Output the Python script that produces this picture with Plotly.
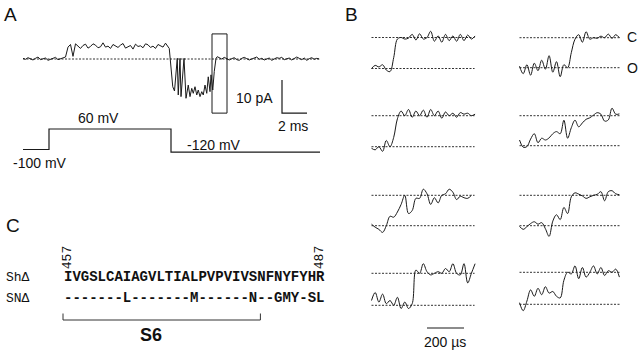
import numpy as np
import plotly.graph_objects as go

W, H = 640, 355

# ---------------- Panel A data ----------------
A_DT = 0.2  # ms sampling of the digitised current
I_pre = [0.2, -0.1, 0.4, 0.1, -0.3, 0.2, 0.6, -0.2, 0.0, 0.3, -0.4, -0.1, 0.3, 0.5, -0.2, 0.1, 0.4, 0.6,
         3.6, 4.4, 0.8, 4.6, 3.9, 3.2, 4.1, 4.5, 3.3, 3.8,
         4.6, 4.2, 3.4, 3.7, 4.9, 3.6, 3.9, 3.2, 4.4, 4.0,
         3.5, 4.2, 4.7, 3.3, 3.6, 4.1, 3.0, 4.5, 3.8, 4.0,
         3.4, 4.6, 4.3, 3.5, 3.9, 3.2, 4.4, 4.1, 3.6, 4.8, 3.9]
tail_t = [11.70, 11.98, 12.12, 12.34, 12.42, 12.56, 12.64, 12.88, 13.04, 13.22, 13.36, 13.50, 13.62,
          13.76, 13.90, 14.02, 14.16, 14.30, 14.42, 14.56, 14.70, 14.82, 14.96, 15.04, 15.18, 15.30,
          15.44, 15.54]
tail_I = [3.2, -8.4, -9.7, 0.2, -10.9, 0.2, -11.4, 0.2, -11.9, -7.9, -11.4, -8.9, -10.4,
          -8.4, -10.9, -9.4, -11.4, -9.9, -10.9, -7.9, -10.4, -5.4, -9.9, -4.8, -9.4, -3.8,
          0.2, 0.7]
POST_T0 = 15.7
I_post = [0.3, 0.0, 0.5, 0.2, -0.3, 0.1, 0.4, -0.2, -0.4, 0.2,
          0.5, 0.1, -0.3, 0.0, 0.4, 0.6, -0.1, 0.2, -0.3, 0.1,
          0.3, -0.4, -0.1, 0.4, 0.2, 0.5, -0.2, 0.0, 0.3, -0.3,
          0.1, 0.6, 0.2, -0.2, 0.3, -0.4, 0.1, 0.4, -0.1, 0.2, 0.0]
A_END = 23.7

V_edges = [0, 2.08, 11.84, 23.76]      # ms
V_levels = [-100, 60, -120, -120]      # mV

BOX_T = [15.12, 16.32]
BOX_I = [-16.4, 7.6]
SCALE_T0, SCALE_I0, SCALE_DT, SCALE_DI = 20.72, -16.4, 2, 10

# ---------------- Panel B data (normalised: 0 = open, 1 = closed) ----------------
B_DT = 20  # microseconds
B1 = [0.0, 0.1, 0.05, 0.12, -0.05, -0.1, 0.35, 0.95, 1.0, 0.95,
      0.98, 1.1, 0.92, 1.12, 0.95, 1.0, 1.2, 0.88, 1.05, 0.85,
      1.1, 0.9, 1.05, 0.88, 1.1, 0.9, 1.08, 0.95, 1.05]
B2 = [0.05, -0.2, 0.1, -0.25, 0.15, -0.1, 0.25, -0.05, 0.4, -0.15,
      0.2, -0.3, 0.1, 0.0, 0.5, 0.95, 1.1, 0.85, 1.2, 0.95,
      1.0, 0.98, 1.05, 1.0, 1.12, 0.98, 1.1, 1.0]
B3 = [-0.05, -0.1, 0.0, -0.15, 0.2, 0.0, 0.3, 0.9, 1.15, 1.0,
      1.2, 0.95, 1.15, 1.0, 1.18, 0.95, 1.2, 1.0, 1.15, 0.92,
      1.12, 1.0, 1.08, 0.95, 1.1, 1.05, 1.08, 1.0, 1.05]
B4 = [0.19, -0.05, -0.03, 0.22, 0.4, 0.1, 0.25, 0.19, 0.26, 0.4,
      0.47, 0.4, 0.85, 0.25, 0.6, 0.85, 0.63, 0.76, 0.88, 0.93,
      1.02, 1.1, 1.05, 0.82, 0.86, 1.25, 1.05, 1.06]
B5 = [0.05, -0.05, -0.12, -0.22, 0.0, 0.31, 0.28, 0.45, 0.7, 1.0,
      0.4, 0.5, 0.9, 0.9, 1.2, 1.05, 0.7, 0.92, 0.75, 1.0,
      1.05, 1.2, 1.1, 0.86, 0.97, 0.92, 0.9, 1.0]
B6 = [-0.02, -0.12, -0.03, 0.07, 0.13, 0.05, 0.1, -0.1, -0.35, 0.15,
      0.36, 0.2, 0.6, 0.4, 0.95, 1.08, 1.04, 0.98, 0.9, 0.95,
      1.0, 1.03, 1.12, 0.82, 1.12, 1.15, 1.05, 1.02]
B7 = [0.15, 0.4, 0.1, 0.35, 0.05, 0.15, 0.0, 0.25, -0.1, 0.1,
      -0.1, 0.05, 1.1, 1.0, 1.3, 1.05, 0.95, 1.0, 1.05, 1.0,
      1.15, 1.05, 1.3, 1.0, 0.95, 1.3, 0.7, 1.0, 1.3]
B8 = [0.05, -0.2, 0.1, 0.45, 0.25, 0.5, 0.3, 0.55, 0.35, 0.4,
      0.25, 0.2, 0.75, 1.0, 0.95, 1.2, 0.8, 1.15, 0.85, 1.0,
      1.2, 0.95, 1.15, 0.9, 1.05, 1.0, 1.1, 0.85]
B_SERIES = [B1, B2, B3, B4, B5, B6, B7, B8]
B_DOT_END = [557, 546, 557, 546, 557, 546, 557, 546]
B_SCALE = [300, 500]  # 200 us scale bar

# ---------------- Panel C data ----------------
seq_label = ["ShΔ", "SNΔ"]
seq = ["IVGSLCAIAGVLTIALPVPVIVSNFNYFYHR",
       "-------L-------M------N--GMY-SL"]
res_first, res_last = 457, 487
S6_RANGE = [456.5, 480]

# ---------------- helpers ----------------
def xr(px0, v0, s):
    return [v0 - px0 / s, v0 + (W - px0) / s]

def yr(py0, v0, s):
    return [v0 - (H - py0) / s, v0 + py0 / s]

LINE = '#1a1a1a'
DOT = "2px,1.5px"

fig = go.Figure()
layout_axes = {}

def add_axes(k, xrange, yrange):
    xa = 'xaxis' if k == 1 else f'xaxis{k}'
    ya = 'yaxis' if k == 1 else f'yaxis{k}'
    common = dict(visible=False, domain=[0, 1], fixedrange=True, showgrid=False, zeroline=False)
    layout_axes[xa] = dict(range=xrange, anchor=('y' if k == 1 else f'y{k}'), **common)
    layout_axes[ya] = dict(range=yrange, anchor=('x' if k == 1 else f'x{k}'), **common)
    return ('x' if k == 1 else f'x{k}'), ('y' if k == 1 else f'y{k}')

# Panel A current axes: 0 ms at px 23, 12.5 px/ms; 0 pA at py 59, 3.3 px/pA
xa1, ya1 = add_axes(1, xr(23, 0, 12.5), yr(59, 0, 3.3))
# Panel A voltage axes
xa2, ya2 = add_axes(2, xr(23, 0, 12.5), yr(149.5, -100, 0.128))
# Panel C axes: residue units
xa3, ya3 = add_axes(3, xr(63, 456.5, 8.4), yr(320, 0, 1.0))

# Current trace
t_pre = np.arange(len(I_pre)) * A_DT
t_post = POST_T0 + np.arange(len(I_post)) * A_DT
tA = np.concatenate([t_pre, tail_t, t_post])
IA = np.concatenate([I_pre, tail_I, I_post])
fig.add_trace(go.Scatter(x=[0, A_END], y=[0, 0], mode='lines', xaxis=xa1, yaxis=ya1,
                         line=dict(color='#333', width=1, dash=DOT), hoverinfo='skip'))
fig.add_trace(go.Scatter(x=tA, y=IA, mode='lines', xaxis=xa1, yaxis=ya1,
                         line=dict(color=LINE, width=1)))
# box
fig.add_trace(go.Scatter(x=[BOX_T[0], BOX_T[1], BOX_T[1], BOX_T[0], BOX_T[0]],
                         y=[BOX_I[0], BOX_I[0], BOX_I[1], BOX_I[1], BOX_I[0]],
                         mode='lines', xaxis=xa1, yaxis=ya1, line=dict(color=LINE, width=1)))
# scale bar
fig.add_trace(go.Scatter(x=[SCALE_T0, SCALE_T0, SCALE_T0 + SCALE_DT],
                         y=[SCALE_I0 + SCALE_DI, SCALE_I0, SCALE_I0],
                         mode='lines', xaxis=xa1, yaxis=ya1, line=dict(color=LINE, width=1.2)))
# voltage protocol
fig.add_trace(go.Scatter(x=V_edges, y=V_levels, mode='lines', line_shape='hv', xaxis=xa2, yaxis=ya2,
                         line=dict(color=LINE, width=1.2)))

# Panel B traces
B_POS = [(371.5, 37.5, 68.5), (519.5, 37.7, 67.7),
         (371.5, 115.7, 146.7), (519.5, 115.7, 145.7),
         (371.5, 195.3, 225.7), (519.5, 195.3, 225.7),
         (371.5, 273.3, 305.3), (519.5, 272.3, 304.3)]
B_US_PX = 0.185
b_axes = []
for i, (vals, (px0, pc, po)) in enumerate(zip(B_SERIES, B_POS)):
    k = 4 + i
    xa, ya = add_axes(k, xr(px0, 0, B_US_PX), yr(po, 0, po - pc))
    b_axes.append((xa, ya))
    end = B_DOT_END[i]
    for lvl in (0, 1):
        fig.add_trace(go.Scatter(x=[0, end], y=[lvl, lvl], mode='lines', xaxis=xa, yaxis=ya,
                                 line=dict(color='#333', width=1, dash=DOT), hoverinfo='skip'))
    t = np.arange(len(vals)) * B_DT
    fig.add_trace(go.Scatter(x=t, y=vals, mode='lines', line_shape='spline', xaxis=xa, yaxis=ya,
                             line=dict(color=LINE, width=1, smoothing=1.0)))
# B scale bar under bottom-left trace
xa7, ya7 = b_axes[6]
fig.add_trace(go.Scatter(x=B_SCALE, y=[-0.71, -0.71], mode='lines', xaxis=xa7, yaxis=ya7,
                         line=dict(color=LINE, width=1.2)))

# Panel C bracket
fig.add_trace(go.Scatter(x=[S6_RANGE[0], S6_RANGE[0], S6_RANGE[1], S6_RANGE[1]],
                         y=[6.5, 0, 0, 6.5], mode='lines', xaxis=xa3, yaxis=ya3,
                         line=dict(color='#333', width=1)))

SANS = "Liberation Sans, Arial, sans-serif"
MONO = "Liberation Mono, Courier New, monospace"

def ann(text, px, py, size, family=SANS, xanchor='center', **kw):
    return dict(text=text, x=px / W, y=1 - py / H, xref='paper', yref='paper', showarrow=False,
                font=dict(family=family, size=size, color='#111'), xanchor=xanchor, yanchor='middle',
                borderpad=0, **kw)

annotations = [
    ann("A", 10, 15, 19), ann("B", 351, 15, 19), ann("C", 13, 225, 19),
    ann("10 pA", 254, 98, 14), ann("2 ms", 293, 126, 14),
    ann("60 mV", 98, 118, 14), ann("-100 mV", 40, 163, 14), ann("-120 mV", 214, 145, 14),
    ann("C", 632, 37, 14), ann("O", 632, 68, 14),
    ann("200 µs", 445, 342, 14),
    ann(seq_label[0], 5, 277, 13, family=MONO, xanchor='left'),
    ann(seq_label[1], 5, 298, 13, family=MONO, xanchor='left'),
    ann("<b>" + seq[0] + "</b>", 63, 277, 14, family=MONO, xanchor='left'),
    ann("<b>" + seq[1] + "</b>", 63, 298, 14, family=MONO, xanchor='left'),
    ann("<b>S6</b>", 151, 335, 18),
]
for r in (res_first, res_last):
    annotations.append(dict(text=str(r), x=r, y=1 - 258 / H, xref=xa3, yref='paper', showarrow=False,
                            textangle=-90, font=dict(family=MONO, size=13, color='#111'),
                            xanchor='center', yanchor='middle', borderpad=0))

fig.update_layout(width=W, height=H, autosize=False, margin=dict(l=0, r=0, t=0, b=0, pad=0),
                  paper_bgcolor='white', plot_bgcolor='rgba(0,0,0,0)', showlegend=False,
                  annotations=annotations, **layout_axes)

fig.write_html("out.html")
